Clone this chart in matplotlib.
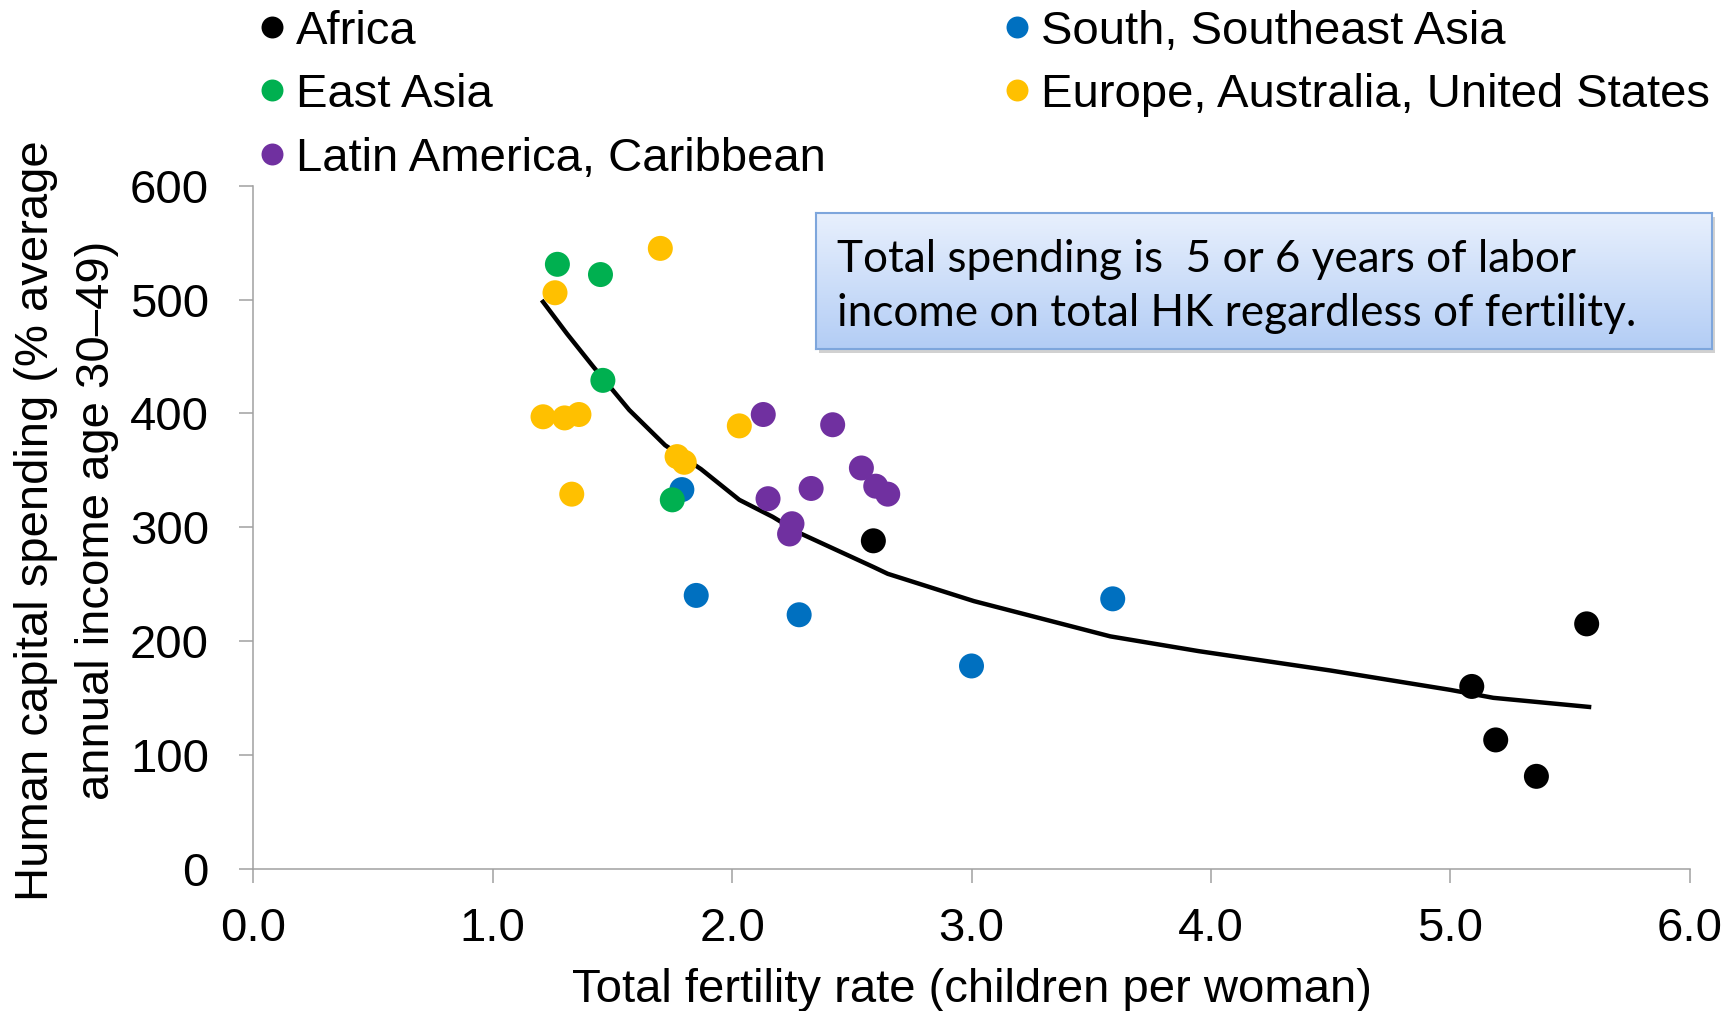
import numpy as np
import matplotlib
matplotlib.use('Agg')
import matplotlib.pyplot as plt
from matplotlib.patches import Rectangle
from matplotlib.lines import Line2D
from matplotlib.colors import LinearSegmentedColormap

plt.rcParams['font.family'] = 'Liberation Sans'
plt.rcParams['font.size'] = 34

# data
groups = ['Africa', 'East Asia', 'Latin America, Caribbean',
          'South, Southeast Asia', 'Europe, Australia, United States']
colors = ['#000000', '#00b050', '#7030a0', '#0070c0', '#ffc000']

africa_x = [2.59, 5.09, 5.19, 5.36, 5.57]
africa_y = [288, 160, 113, 81, 215]

east_asia_x = [1.27, 1.45, 1.46, 1.75]
east_asia_y = [531, 522, 429, 324]

latam_x = [2.13, 2.42, 2.54, 2.60, 2.65, 2.15, 2.33, 2.25, 2.24]
latam_y = [399, 390, 352, 336, 329, 325, 334, 303, 294]

sse_asia_x = [1.79, 1.85, 2.28, 3.00, 3.59]
sse_asia_y = [333, 240, 223, 178, 237]

europe_x = [1.70, 1.26, 1.21, 1.30, 1.36, 1.33, 1.77, 1.80, 2.03]
europe_y = [545, 506, 397, 396, 399, 329, 362, 357, 389]

fit_x = [1.21, 1.31, 1.42, 1.57, 1.72, 1.87, 2.03, 2.17, 2.28, 2.59, 2.65,
         3.01, 3.58, 3.95, 4.5, 5.0, 5.18, 5.58]
fit_y = [498, 470, 441, 403, 372, 351, 324, 309, 295, 265, 259,
         235, 204, 191, 174, 157, 150, 142]

xticks = [0, 1, 2, 3, 4, 5, 6]
yticks = [0, 100, 200, 300, 400, 500, 600]

box_lines = ['Total spending is  5 or 6 years of labor',
             'income on total HK regardless of fertility.']

W, H = 1735, 1011
fig = plt.figure(figsize=(W / 100, H / 100), dpi=100)
ax = fig.add_axes([253.4 / W, 1 - 868.5 / H, 1436.2 / W, 682.7 / H])

ax.plot(fit_x, fit_y, color='black', lw=3.2, zorder=2)

series = [(africa_x, africa_y, colors[0]),
          (sse_asia_x, sse_asia_y, colors[3]),
          (east_asia_x, east_asia_y, colors[1]),
          (europe_x, europe_y, colors[4]),
          (latam_x, latam_y, colors[2])]
for xs, ys, c in series:
    ax.scatter(xs, ys, s=324, color=c, edgecolors='none', zorder=3)

ax.set_xlim(0, 6)
ax.set_ylim(0, 600)
ax.set_xticks(xticks)
ax.set_xticklabels(['%.1f' % v for v in xticks])
ax.set_yticks(yticks)
ax.set_yticklabels([str(v) for v in yticks])

spine_col = '#a0a0a0'
for s in ['top', 'right']:
    ax.spines[s].set_visible(False)
for s in ['left', 'bottom']:
    ax.spines[s].set_color(spine_col)
    ax.spines[s].set_linewidth(1.1)
ax.tick_params(axis='both', direction='out', length=10, width=1.1,
               color=spine_col, labelsize=34)
ax.tick_params(axis='x', pad=18)
ax.tick_params(axis='y', pad=22)

ax.set_xlabel('Total fertility rate (children per woman)', fontsize=34, labelpad=12)
ax.set_ylabel('Human capital spending (% average\nannual income age 30\u201349)',
              fontsize=34, linespacing=1.5)
ax.yaxis.set_label_coords(-0.0936, 0.51)

# legend placed as in the original, two columns
leg_x = [272, 1017]
for i, (name, c) in enumerate(zip(groups, colors)):
    col = 0 if i < 3 else 1
    row = i if i < 3 else i - 3
    mx = leg_x[col]
    my = 26.6 + 63.6 * row
    fig.add_artist(Line2D([mx / W], [1 - my / H], marker='o', markersize=15.8,
                          color=c, markeredgewidth=0, linestyle='none'))
    fig.text((mx + 24) / W, 1 - (my + 16.9) / H, name, fontsize=34,
             va='baseline', ha='left')

# annotation box with gradient and shadow
bx0, bx1, by0, by1 = 816, 1712.3, 213.3, 349
shadow = Rectangle(((bx0 + 3) / W, 1 - (by1 + 4) / H), (bx1 - bx0) / W, (by1 - by0) / H,
                   transform=fig.transFigure, facecolor='#000000', alpha=0.18,
                   edgecolor='none', zorder=2)
fig.add_artist(shadow)
bax = fig.add_axes([bx0 / W, 1 - by1 / H, (bx1 - bx0) / W, (by1 - by0) / H], zorder=3)
cmap = LinearSegmentedColormap.from_list('boxgrad', ['#e8f0fd', '#b3cdf5'])
bax.imshow(np.linspace(0, 1, 256).reshape(-1, 1), cmap=cmap, aspect='auto',
           extent=[0, 1, 0, 1], origin='upper')
bax.set_xlim(0, 1)
bax.set_ylim(0, 1)
bax.set_xticks([])
bax.set_yticks([])
for s in bax.spines.values():
    s.set_color('#7ea6dc')
    s.set_linewidth(1.5)
bax.text(0.0229, 0.57, box_lines[0], fontsize=31.8, family='Lato',
         va='baseline', ha='left')
bax.text(0.0229, 0.17, box_lines[1], fontsize=31.8, family='Lato',
         va='baseline', ha='left')

fig.savefig('out.png', dpi=100)
